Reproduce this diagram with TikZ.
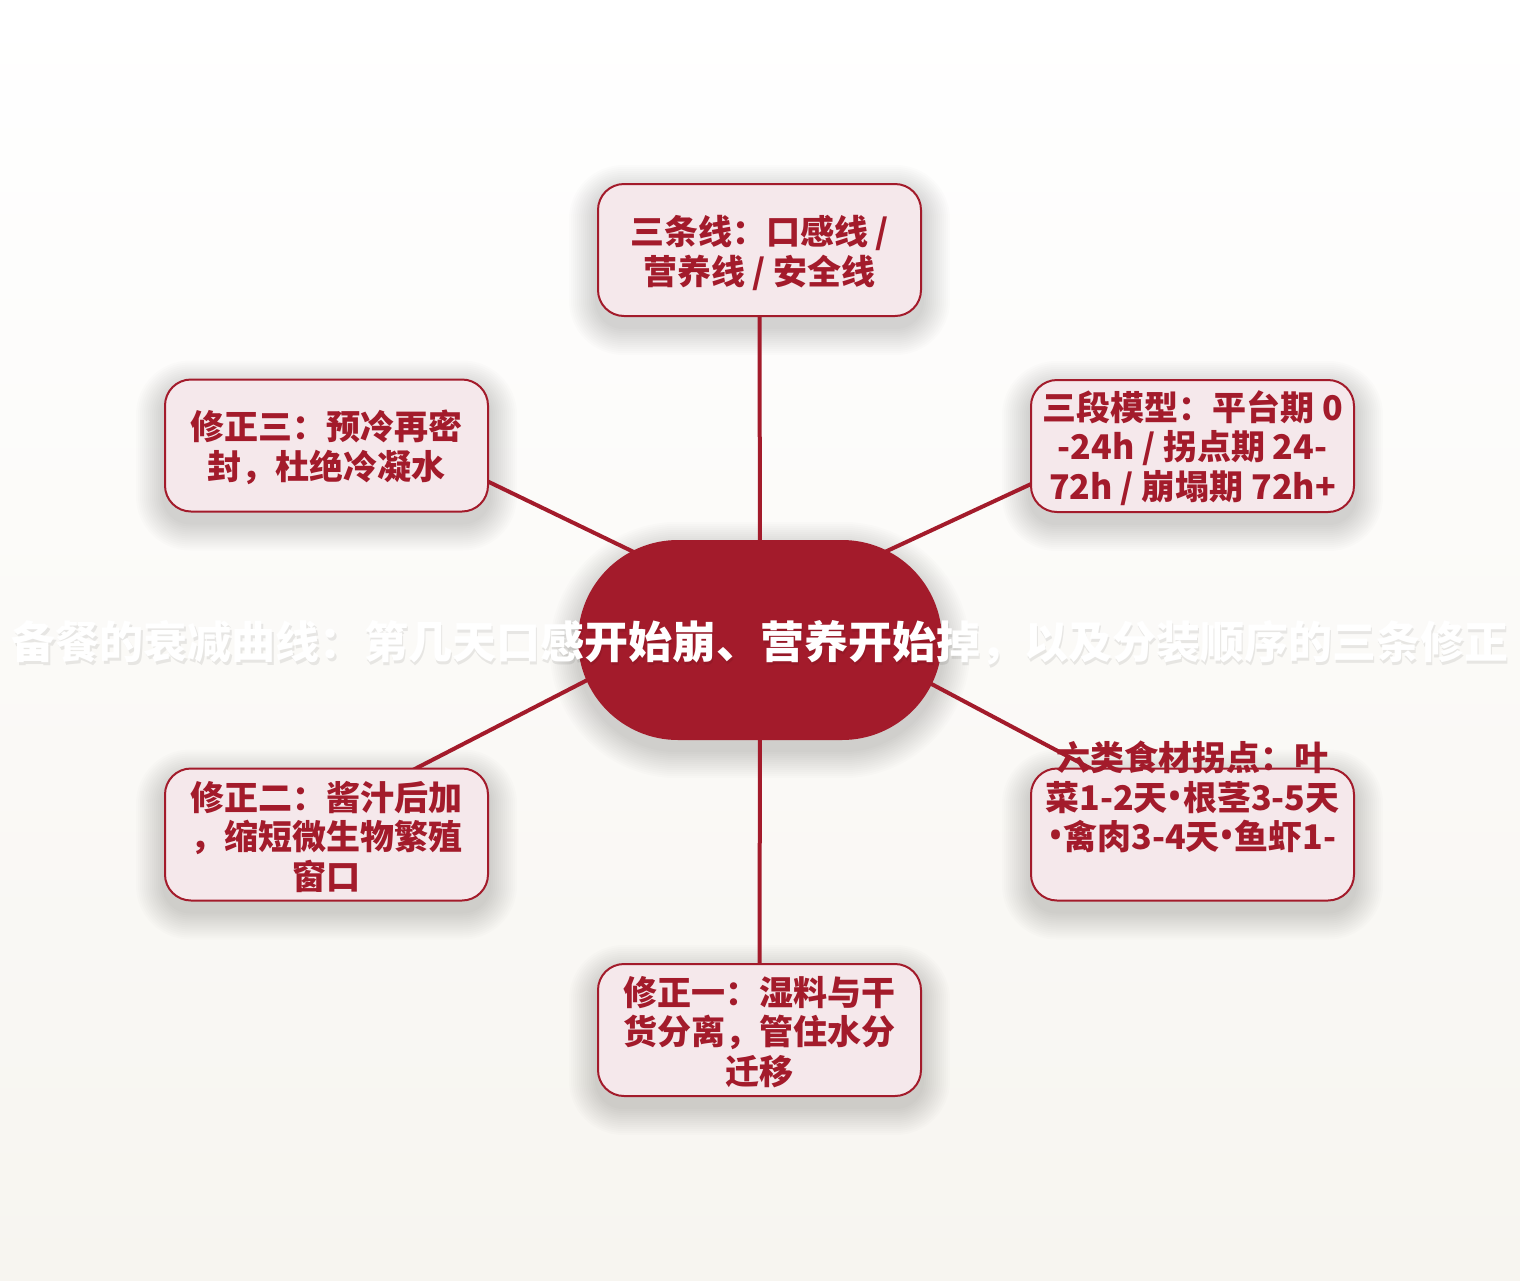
\documentclass[tikz,border=0pt]{standalone}
\usepackage{fontspec}
\setmainfont{Noto Sans CJK SC}
\newfontfamily\latinf{Noto Sans}
\usetikzlibrary{calc}
\definecolor{deepred}{HTML}{A31B2B}
\definecolor{boxfill}{HTML}{F5E8EB}
\definecolor{bgtop}{HTML}{FFFFFF}
\definecolor{bgbot}{HTML}{F7F5F0}
\pgfdeclarelayer{back}
\pgfdeclarelayer{shadowlayer}
\pgfdeclarelayer{lines}
\pgfsetlayers{back,shadowlayer,lines,main}
\newcommand{\bul}{{\latinf\bfseries\fontsize{40}{40}\selectfont •}}
% soft shadow: #1 node name, #2 corner radius (pt number)
\newcommand{\softshadow}[2]{%
  \begin{pgfonlayer}{shadowlayer}
  \foreach \k in {1,...,14}{%
    \pgfmathsetmacro{\rr}{#2+2*\k}%
    \pgfmathsetmacro{\gg}{2*\k}%
    \fill[black, fill opacity=0.012, rounded corners=\rr pt]
      ([xshift=-\gg pt, yshift=-10pt-\gg pt]#1.south west) rectangle
      ([xshift=\gg pt, yshift=-10pt+\gg pt]#1.north east);
  }%
  \end{pgfonlayer}}
\begin{document}
\begin{tikzpicture}[x=1pt,y=-1pt,
  leaf/.style={draw=deepred, line width=2pt, fill=boxfill, rounded corners=26pt,
    minimum width=323pt, minimum height=132pt, inner sep=0pt},
  leaftext/.style={text=deepred, font=\fontsize{34}{39.5}\selectfont\bfseries, align=center, inner sep=0pt},
  hub/.style={fill=deepred, rounded corners=100pt, minimum width=364pt, minimum height=200pt, inner sep=0pt},
  titletext/.style={text=white, font=\fontsize{44}{52}\selectfont\bfseries, inner sep=0pt},
  conn/.style={draw=deepred, line width=4pt}
]
\begin{pgfonlayer}{back}
\shade[top color=bgtop, bottom color=bgbot] (0,0) rectangle (1520,1280);
\end{pgfonlayer}
\useasboundingbox (0,0) rectangle (1520,1280);

% hub
\node[hub] (hub) at (760,640) {};

% leaf boxes
\node[leaf] (n1) at (759.5,250) {};
\node[leaf] (n2) at (1192.5,446) {};
\node[leaf] (n5) at (1192.5,834.5) {};
\node[leaf] (n3) at (759.5,1030) {};
\node[leaf] (n4) at (326.5,834.5) {};
\node[leaf] (n6) at (326.5,445.5) {};

\softshadow{hub}{100}
\softshadow{n1}{26}
\softshadow{n2}{26}
\softshadow{n3}{26}
\softshadow{n4}{26}
\softshadow{n5}{26}
\softshadow{n6}{26}

% title with faint shadow
\node[titletext, text=black, text opacity=0.08] (titleshadow) at (761.5,645.5) {备餐的衰减曲线：第几天口感开始崩、营养开始掉，以及分装顺序的三条修正};
\node[titletext] (title) at (760,643) {备餐的衰减曲线：第几天口感开始崩、营养开始掉，以及分装顺序的三条修正};

% box texts
\node[leaftext] (t1) at ([yshift=-3pt]n1.center) {三条线：口感线 /\\营养线 / 安全线};
\node[leaftext] (t2) at ([yshift=-2pt]n2.center) {三段模型：平台期 0\\-24h / 拐点期 24-\\72h / 崩塌期 72h+};
\node[leaftext] (t5) at (1192.5,797) {六类食材拐点：叶\\菜1-2天\bul 根茎3-5天\\\bul 禽肉3-4天\bul 鱼虾1-};
\node[leaftext] (t3) at ([yshift=-2pt]n3.center) {修正一：湿料与干\\货分离，管住水分\\迁移};
\node[leaftext] (t4) at ([yshift=-2pt]n4.center) {修正二：酱汁后加\\，缩短微生物繁殖\\窗口};
\node[leaftext] (t6) at ([yshift=-2pt]n6.center) {修正三：预冷再密\\封，杜绝冷凝水};

% connectors
\begin{pgfonlayer}{lines}
\draw[conn] (hub.center) -- (n1.center);
\draw[conn] (hub.center) -- (n3.center);
\draw[conn] ([yshift=30pt]hub.center) -- ([yshift=37pt]n2.center);
\draw[conn] ([yshift=47pt]hub.center) -- ([yshift=12pt]n5.center);
\draw[conn] ([yshift=49pt]hub.center) -- ([yshift=20pt]n4.center);
\draw[conn] ([yshift=27pt]hub.center) -- ([yshift=42pt]n6.center);
\end{pgfonlayer}
\end{tikzpicture}
\end{document}
